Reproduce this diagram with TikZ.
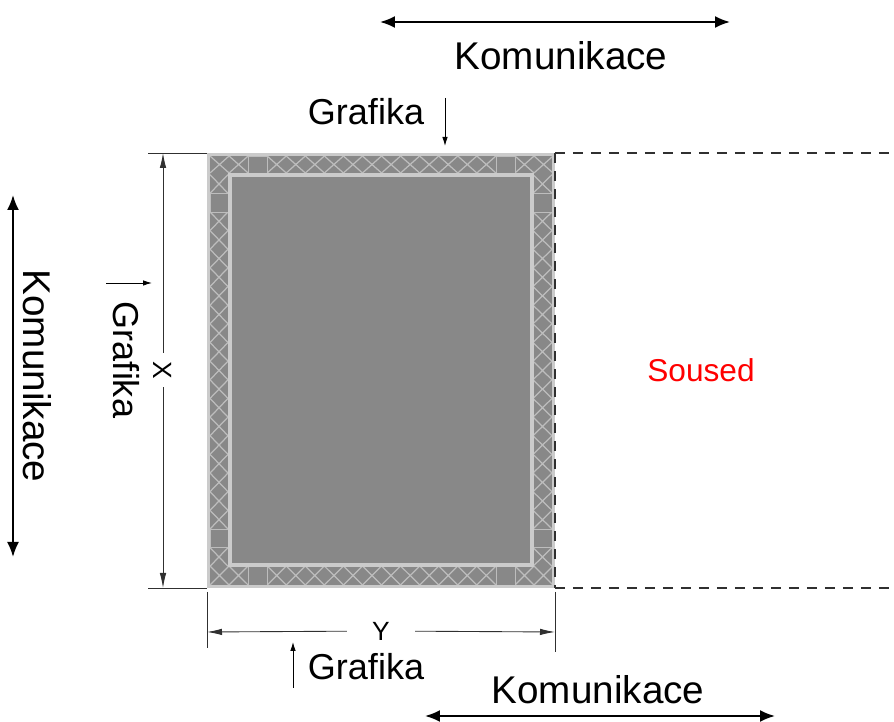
\documentclass[tikz,border=0pt]{standalone}
\usepackage{fontspec}
\setmainfont{Liberation Sans}
\usetikzlibrary{arrows.meta}

\definecolor{panel}{HTML}{888888}
\definecolor{rim}{HTML}{CBCBCB}
\definecolor{hatch}{HTML}{BDBDBD}
\definecolor{dimline}{HTML}{303030}

\tikzset{
	commtext/.style={font=\fontsize{22}{26}\selectfont, inner sep=0pt},
	graftext/.style={font=\fontsize{20.5}{24}\selectfont, inner sep=0pt},
	dimtext/.style={font=\fontsize{15}{17}\selectfont, fill=white},
	flow/.style={line width=1.1pt, {Latex[length=3mm,width=2.4mm]}-{Latex[length=3mm,width=2.4mm]}},
	hint/.style={line width=0.5pt, -{Latex[length=1.8mm,width=1.1mm]}},
	dimarrow/.style={dimline, line width=0.5pt, -{Latex[length=3mm,width=1.3mm]}},
	extline/.style={dimline, line width=0.5pt},
	cellline/.style={hatch, line width=0.7pt},
	plaincell/.style={hatch, line width=0.4pt, fill=panel},
	border/.style={dimline, line width=0.9pt, dash pattern=on 0.2cm off 0.16cm}
}

\begin{document}
\begin{tikzpicture}[x=0.02cm, y=-0.02cm]
		\useasboundingbox (0,0) rectangle (894,722);

		\coordinate (tl) at (207,153);
		\coordinate (tr) at (555,153);
		\coordinate (bl) at (207,588);
		\coordinate (br) at (555,588);

		% frame
		\fill[panel] (tl) rectangle (br);
		\foreach \i in {0,...,17} {
			\pgfmathsetmacro\xa{210+\i*19.06}
			\pgfmathsetmacro\xb{\xa+19.06}
			\draw[cellline] (\xa,156) -- (\xb,173) (\xa,173) -- (\xb,156);
			\draw[cellline] (\xa,566) -- (\xb,585) (\xa,585) -- (\xb,566);
		}
		\foreach \i in {1,...,21} {
			\pgfmathsetmacro\ya{156+\i*18.65}
			\pgfmathsetmacro\yb{\ya+18.65}
			\draw[cellline] (210,\ya) -- (228,\yb) (210,\yb) -- (228,\ya);
			\draw[cellline] (533,\ya) -- (552,\yb) (533,\yb) -- (552,\ya);
		}
		% plain cells
		\foreach \i in {2,15} {
			\pgfmathsetmacro\xa{210+\i*19.06}
			\draw[plaincell] (\xa,156) rectangle ++(19.06,17);
			\draw[plaincell] (\xa,566) rectangle ++(19.06,19);
		}
		\foreach \i in {2,20} {
			\pgfmathsetmacro\ya{156+\i*18.65}
			\draw[plaincell] (210,\ya) rectangle ++(18,18.65);
			\draw[plaincell] (533,\ya) rectangle ++(19,18.65);
		}
		\draw[rim, line width=1.7pt] (208.5,154.5) rectangle (553.5,586.5);
		\draw[rim, line width=2.2pt, fill=panel] (230,175) rectangle (532,565);

		% neighbour
		\draw[border] (tr) -- (894,153);
		\draw[border] (br) -- (894,588);
		\draw[border] (tr) -- (br);
		\node[font=\fontsize{18}{22}\selectfont, text=red] (soused) at (701,370) {Soused};

		% X dimension
		\draw[extline] (148,153) -- (tl);
		\draw[extline] (148,588) -- (bl);
		\coordinate (xtop) at (163,153);
		\coordinate (xbot) at (163,588);
		\node[dimtext, rotate=-90, inner xsep=0.16cm, inner ysep=1pt] (xlab) at (163,370) {X};
		\draw[dimarrow] (xlab) -- (xtop);
		\draw[dimarrow] (xlab) -- (xbot);

		% Y dimension
		\coordinate (yl0) at (207,592);
		\coordinate (yr0) at (555,592);
		\coordinate (yl1) at (207,648);
		\coordinate (yr1) at (555,652);
		\draw[extline] (yl0) -- (yl1);
		\draw[extline] (yr0) -- (yr1);
		\coordinate (yleft) at (207,632);
		\coordinate (yright) at (555,632);
		\node[dimtext, inner xsep=0.5cm, inner ysep=1pt] (ylab) at (381,631) {Y};
		\draw[dimarrow] (ylab) -- (yleft);
		\draw[dimarrow] (ylab) -- (yright);

		% Komunikace
		\node[commtext, anchor=base] (komtop) at (561,70) {Komunikace};
		\coordinate (kta) at (380,22);
		\coordinate (ktb) at (730,22);
		\draw[flow] (kta) -- (ktb);

		\node[commtext, rotate=-90] (komleft) at (37,376) {Komunikace};
		\coordinate (kla) at (13,195);
		\coordinate (klb) at (13,557);
		\draw[flow] (kla) -- (klb);

		\node[commtext, anchor=base] (kombot) at (598,704) {Komunikace};
		\coordinate (kba) at (425,716);
		\coordinate (kbb) at (775,716);
		\draw[flow] (kba) -- (kbb);

		% Grafika
		\node[graftext, anchor=base] (graftop) at (366,125) {Grafika};
		\coordinate (gta) at (445,98);
		\coordinate (gtb) at (445,146);
		\draw[hint] (gta) -- (gtb);

		\node[graftext, rotate=-90] (grafleft) at (126,360) {Grafika};
		\coordinate (gla) at (106,283);
		\coordinate (glb) at (152,283);
		\draw[hint] (gla) -- (glb);

		\node[graftext, anchor=base] (grafbot) at (366,680) {Grafika};
		\coordinate (gba) at (293,688);
		\coordinate (gbb) at (293,642);
		\draw[hint] (gba) -- (gbb);
	\end{tikzpicture}
\end{document}
